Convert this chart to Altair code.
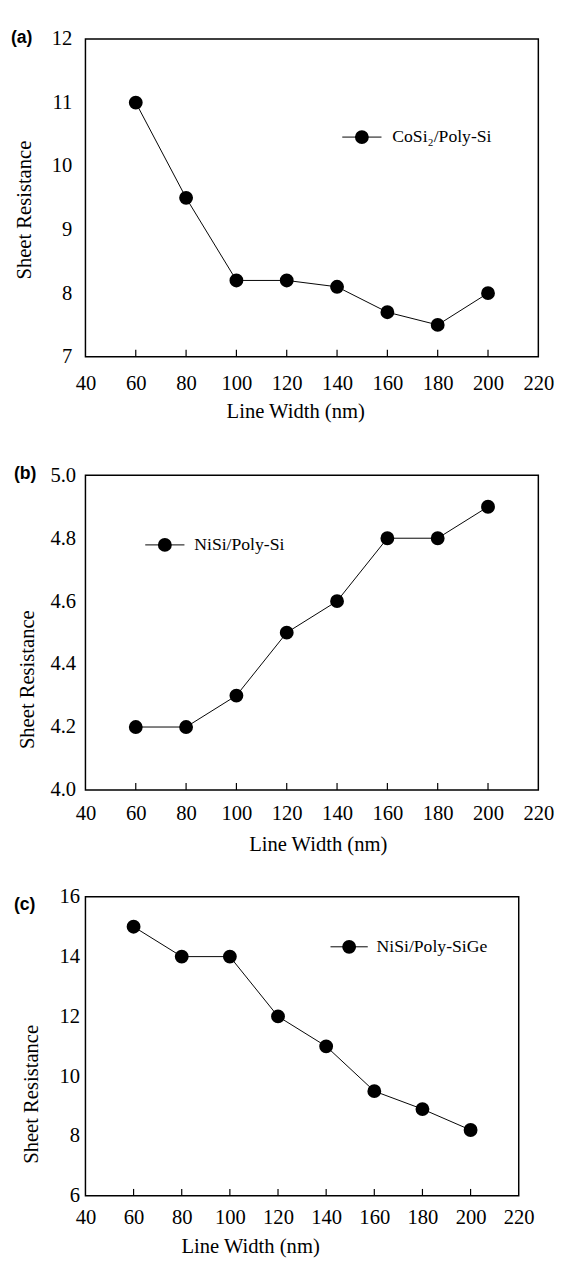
import altair as alt
import pandas as pd

# ---- data ----
line_width = [60, 80, 100, 120, 140, 160, 180, 200]
cosi2_poly_si = [11.0, 9.5, 8.2, 8.2, 8.1, 7.7, 7.5, 8.0]
nisi_poly_si = [4.2, 4.2, 4.3, 4.5, 4.6, 4.8, 4.8, 4.9]
nisi_poly_sige = [15.0, 14.0, 14.0, 12.0, 11.0, 9.5, 8.9, 8.2]

series_names = ["CoSi\u2082/Poly-Si", "NiSi/Poly-Si", "NiSi/Poly-SiGe"]
panel_tags = ["(a)", "(b)", "(c)"]

x_tick_labels = [40, 60, 80, 100, 120, 140, 160, 180, 200, 220]
x_inner_ticks = [60, 80, 100, 120, 140, 160, 180, 200]
y_ticks_a = [7, 8, 9, 10, 11, 12]
y_ticks_b = [4.0, 4.2, 4.4, 4.6, 4.8, 5.0]
y_ticks_c = [6, 8, 10, 12, 14, 16]

SERIF = "Liberation Serif"
SANS = "Liberation Sans"
BOX = alt.ViewBackground(stroke="black", strokeWidth=1.5)


def panel(values, series, tag, ydomain, yticks, yfmt, w, h, p):
    df = pd.DataFrame({"lw": line_width, "rs": values})
    ticks = pd.DataFrame({"lw": x_inner_ticks})
    one = pd.DataFrame({"label": [series]})

    x = alt.X(
        "lw:Q",
        scale=alt.Scale(domain=[40, 220], nice=False, zero=False),
        axis=alt.Axis(
            values=x_tick_labels, title="Line Width (nm)", ticks=False, tickSize=0,
            domain=False, grid=False, labelFlush=False, labelOverlap=False,
            labelPadding=p["xlp"], labelBaseline="middle",
            titleX=p["xtx"], titleY=p["xty"], titleBaseline="middle",
        ),
    )
    y = alt.Y(
        "rs:Q",
        scale=alt.Scale(domain=ydomain, nice=False, zero=False),
        axis=alt.Axis(
            values=yticks, format=yfmt, title="Sheet Resistance", ticks=False,
            tickSize=0, domain=False, grid=False, labelOverlap=False,
            labelFlush=False, labelPadding=p["ylp"],
            titleX=p["ytx"], titleY=p["yty"], titleBaseline="middle", titleAngle=270,
        ),
    )

    line = alt.Chart(df).mark_line(color="black", strokeWidth=1).encode(x=x, y=y)
    pts = alt.Chart(df).mark_circle(color="black", size=200, opacity=1).encode(
        x="lw:Q", y="rs:Q"
    )
    tk = alt.Chart(ticks).mark_rule(color="black", strokeWidth=1.2).encode(
        x="lw:Q", y=alt.value(h), y2=alt.value(h - 7)
    )

    lrule = alt.Chart(one).mark_rule(color="black", strokeWidth=1).encode(
        x=alt.value(p["lx1"]), x2=alt.value(p["lx2"]), y=alt.value(p["ly"])
    )
    lpt = alt.Chart(one).mark_circle(color="black", size=200, opacity=1).encode(
        x=alt.value((p["lx1"] + p["lx2"]) / 2), y=alt.value(p["ly"])
    )
    ltxt = alt.Chart(one).mark_text(
        align="left", baseline="middle", font=SERIF, fontSize=18, color="black"
    ).encode(x=alt.value(p["ltx"]), y=alt.value(p["ly"]), text="label:N")

    tagm = alt.Chart(one).mark_text(
        text=tag, align="left", baseline="middle", font=SANS, fontSize=18,
        fontWeight="bold", color="black",
    ).encode(x=alt.value(p["tx"]), y=alt.value(p["ty"]))

    return alt.layer(line, pts, tk, lrule, lpt, ltxt, tagm).properties(
        width=w, height=h, view=BOX
    )


def spacer(h):
    one = pd.DataFrame({"s": [0]})
    return (
        alt.Chart(one)
        .mark_point(opacity=0, size=1)
        .encode(x=alt.value(0), y=alt.value(0))
        .properties(width=10, height=h, view=alt.ViewBackground(stroke=None))
    )


pa = panel(
    cosi2_poly_si, series_names[0], panel_tags[0], [7, 12], y_ticks_a, "d", 462, 324,
    dict(xlp=28, xtx=214, xty=56, ylp=14, ytx=-62, yty=174,
         lx1=262, lx2=302, ly=100, ltx=313, tx=-76, ty=-1),
)
pb = panel(
    nisi_poly_si, series_names[1], panel_tags[1], [4.0, 5.0], y_ticks_b, ".1f", 462, 321,
    dict(xlp=24, xtx=237, xty=56, ylp=10, ytx=-59, yty=208,
         lx1=61, lx2=101, ly=71, ltx=111, tx=-73, ty=-1),
)
pc = panel(
    nisi_poly_sige, series_names[2], panel_tags[2], [6, 16], y_ticks_c, "d", 442, 305,
    dict(xlp=22, xtx=168, xty=52, ylp=6, ytx=-55, yty=201,
         lx1=250, lx2=288, ly=51, ltx=297, tx=-73, ty=8),
)

chart = (
    alt.vconcat(pa, spacer(121), pb, spacer(109), pc, spacing=0, bounds="flush")
    .properties(padding={"left": 2, "top": 7, "right": 0, "bottom": 0})
    .configure_view(stroke=None)
    .configure_axis(
        labelFont=SERIF, labelFontSize=21, labelColor="black",
        titleFont=SERIF, titleFontSize=21, titleFontWeight="normal", titleColor="black",
    )
)

chart.save("out.html", embed_options={"renderer": "svg", "actions": False})
